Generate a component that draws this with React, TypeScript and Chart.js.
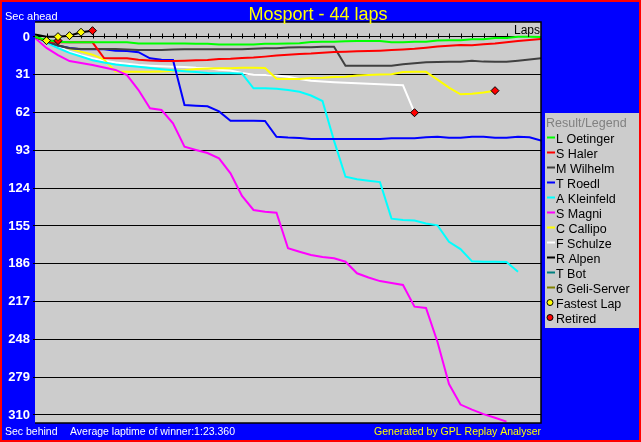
import React, { useEffect, useRef } from "react";
import { Chart, registerables } from "chart.js";

Chart.register(...registerables);

// ---------- data (seconds behind an even-pace winner, per lap 0..n) ----------
const DRIVERS = [
  "L Oetinger",
  "S Haler",
  "M Wilhelm",
  "T Roedl",
  "A Kleinfeld",
  "S Magni",
  "C Callipo",
  "F Schulze",
  "R Alpen",
  "T Bot",
  "6 Geli-Server",
];
const DRIVER_COLORS = [
  "#00ff00",
  "#ff0000",
  "#404040",
  "#0000ff",
  "#00ffff",
  "#ff00ff",
  "#ffff00",
  "#ffffff",
  "#000000",
  "#008080",
  "#808000",
];

const oetinger = [
  0, 2.5, 4, 4.3, 4.3, 4.3, 4.3, 4.3, 4.4, 5.3, 5.4, 5.4, 5.4, 5.4, 5.5, 5.6, 6.1, 6.1, 6.1, 6.1, 5.6, 5.5,
  5.4, 5.2, 4.2, 3.9, 3.9, 3.5, 3.3, 3.3, 3.3, 4.4, 4.4, 3.9, 3.8, 2.8, 2.7, 2.6, 1.9, 1.9, 0.8, 0.8, -0.2,
  -0.2, 0,
];
const haler = [
  0, 3.5, 4.3, 4.3, 4.3, 4.4, 17.3, 17.4, 17.5, 18.6, 19.3, 19.6, 19.6, 19.4, 19.0, 18.8, 18.1, 17.9, 17.3,
  16.9, 16.1, 15.2, 14.5, 14.0, 13.6, 12.9, 12.3, 12.0, 11.7, 11.5, 11.2, 10.7, 10.2, 9.7, 8.8, 7.8, 7.2, 6.5,
  6.8, 5.9, 5.4, 4.3, 3.3, 2.5, 1.6,
];
const wilhelm = [
  0, 3.5, 7, 9.3, 9.8, 9.8, 9.8, 9.8, 10.2, 10.7, 10.7, 10.6, 10.3, 10.1, 10.1, 10.1, 10.1, 10.1, 10.1, 9.6,
  9.3, 9.3, 8.6, 8.4, 8.4, 8.0, 8.0, 23.5, 23.5, 23.5, 23.5, 23.5, 22.4, 21.6, 20.8, 20.6, 20.3, 20.3, 19.5,
  20.2, 20.3, 20.3, 19.5, 18.5, 17.5,
];
const roedl = [
  0, 3.5, 7, 9, 10.1, 10.1, 10.1, 11.3, 11.5, 12.5, 17.5, 18.6, 18.9, 55.8, 56.4, 56.8, 61, 68.7, 68.7, 68.7,
  68.9, 81.8, 82.5, 82.8, 83.7, 83.7, 83.7, 83.7, 83.7, 83.7, 83.7, 83.1, 83.1, 83.1, 82.3, 81.8, 82.6, 82.6,
  81.8, 81.8, 82.6, 82.6, 81.8, 82.2, 85,
];
const kleinfeld = [
  0, 4.5, 9, 13, 16, 19, 21, 22.5, 23.5, 24.5, 25.5, 26.5, 27.3, 28, 28.8, 29.5, 29.8, 29.8, 30, 42.1, 42.1,
  42.5, 43.5, 44.9, 48, 52.5, 85, 114.6, 116.7, 117.9, 119, 149, 150.1, 150.5, 153, 154.5, 168, 174, 184,
  184.3, 184.3, 184.5, 192.5,
];
const magni = [
  0.8, 9, 14.8, 19.7, 21.3, 23, 25, 27, 31.2, 43.5, 58.5, 59.9, 70.8, 90, 92.7, 95.2, 99.5, 111.8, 130.4,
  141.9, 143.3, 144.1, 173.3, 176.1, 178.8, 180.5, 181.5, 184.3, 193.8, 197.3, 200.2, 201.8, 203.4, 221.2,
  222.3, 250.2, 284.7, 301.5, 305.6, 309.3, 312.3, 315.5,
];
const callipo = [
  0, 3, 6.5, 9.5, 12, 14.5, 18.5, 28.3, 28.5, 28.5, 28.5, 28.4, 27.6, 27.2, 26.3, 25.8, 25.7, 25.6, 25.2,
  25.2, 25.5, 34.2, 34.5, 34.5, 33.6, 33.4, 32.8, 32.6, 31.6, 31.2, 30.8, 30.5, 28.8, 28.5, 28.6, 34.9, 41.5,
  47, 46.5, 45.5, 44,
];
const schulze = [
  0, 4, 8, 12, 15, 17.5, 19.5, 21, 22, 23, 23.6, 24, 24.4, 24.6, 25.2, 25.4, 26.8, 27.5, 29.6, 31, 31.2, 31.6,
  32.6, 34.5, 35.8, 36.6, 37.2, 37.6, 38, 38.4, 38.8, 39.2, 39.6, 62.1,
];
const alpen = [-2, -0.2, -0.3, -1.1, -3.9, -5.2];
const bot = [0, 3, 3];
const geliServer: number[] = [];

const SERIES = [oetinger, haler, wilhelm, roedl, kleinfeld, magni, callipo, schulze, alpen, bot, geliServer];

const FASTEST_LAPS = [
  { driver: "T Bot", lap: 1 },
  { driver: "R Alpen", lap: 2 },
  { driver: "R Alpen", lap: 3 },
  { driver: "R Alpen", lap: 4 },
];
const RETIRED = [
  { driver: "T Bot", lap: 2 },
  { driver: "R Alpen", lap: 5 },
  { driver: "F Schulze", lap: 33 },
  { driver: "C Callipo", lap: 40 },
];

const Y_TICKS = [0, 31, 62, 93, 124, 155, 186, 217, 248, 279, 310];
const Y_MIN = -12.3;
const Y_MAX = 316.6;
const TOTAL_LAPS = 44;
const TICKED_LAPS = [1, 2, 3, 4, 5, 6, 7, 8, 9, 10, 11, 12, 13, 14, 15, 16, 17, 18, 19, 20, 21, 22, 23, 24, 25, 26, 27, 28, 29, 30, 31, 32, 33, 34, 35, 36, 37, 38, 39, 40, 41];

const TITLE = "Mosport - 44 laps";
const AVG_LAP = "Average laptime of winner:1:23.360";

const FONT = '"Liberation Sans", Arial, sans-serif';

function markerPoints(list: { driver: string; lap: number }[]) {
  return list.map((m) => {
    const s = SERIES[DRIVERS.indexOf(m.driver)];
    return { x: m.lap, y: s[m.lap] };
  });
}

const framePlugin = {
  id: "gplFrame",
  beforeDraw(chart: any) {
    const { ctx, width, height, chartArea: a } = chart;
    ctx.save();
    ctx.fillStyle = "#0000ff";
    ctx.fillRect(0, 0, width, height);
    ctx.strokeStyle = "#ff0000";
    ctx.lineWidth = 2;
    ctx.strokeRect(1, 1, width - 2, height - 2);
    ctx.fillStyle = "#cccccc";
    ctx.fillRect(a.left, a.top, a.right - a.left, a.bottom - a.top);
    ctx.restore();
  },
  beforeDatasetsDraw(chart: any) {
    const { ctx } = chart;
    const xs = chart.scales.x;
    const ys = chart.scales.y;
    const y0 = Math.round(ys.getPixelForValue(0)) + 0.5;
    ctx.save();
    ctx.strokeStyle = "#000";
    ctx.lineWidth = 1;
    ctx.beginPath();
    TICKED_LAPS.forEach((lap) => {
      const x = Math.round(xs.getPixelForValue(lap)) + 0.5;
      ctx.moveTo(x, y0 - 4);
      ctx.lineTo(x, y0 + 1);
    });
    ctx.stroke();
    ctx.restore();
  },
  afterDraw(chart: any) {
    const { ctx, width, chartArea: a } = chart;
    ctx.save();
    // plot frame
    ctx.strokeStyle = "#000";
    ctx.lineWidth = 1.5;
    ctx.beginPath();
    ctx.moveTo(a.left, a.top);
    ctx.lineTo(a.right, a.top);
    ctx.lineTo(a.right, a.bottom);
    ctx.lineTo(a.left, a.bottom);
    ctx.stroke();

    // texts
    ctx.textBaseline = "alphabetic";
    ctx.fillStyle = "#ffff00";
    ctx.font = `18px ${FONT}`;
    ctx.textAlign = "center";
    ctx.fillText(TITLE, 318, 20);

    ctx.textAlign = "left";
    ctx.fillStyle = "#ffffff";
    ctx.font = `11px ${FONT}`;
    ctx.fillText("Sec ahead", 5, 20);
    ctx.font = `10.5px ${FONT}`;
    ctx.fillText("Sec behind", 5, 435);
    ctx.fillText(AVG_LAP, 70, 435);
    ctx.textAlign = "right";
    ctx.fillStyle = "#ffff00";
    ctx.fillText("Generated by GPL Replay Analyser", a.right, 435);

    ctx.fillStyle = "#000";
    ctx.font = `12px ${FONT}`;
    ctx.fillText("Laps", a.right - 1, 34);

    // legend box
    const lx = a.right + 4;
    const ly = 113;
    ctx.fillStyle = "#cccccc";
    ctx.fillRect(lx, ly, width - 2 - lx, 215);
    ctx.textAlign = "left";
    ctx.font = `12.5px ${FONT}`;
    ctx.fillStyle = "#808080";
    ctx.fillText("Result/Legend", lx + 1, ly + 14);
    const rowY = (i: number) => ly + 24.5 + i * 15;
    DRIVERS.forEach((name, i) => {
      const cy = rowY(i);
      ctx.strokeStyle = DRIVER_COLORS[i];
      ctx.lineWidth = 2;
      ctx.beginPath();
      ctx.moveTo(lx + 2, cy);
      ctx.lineTo(lx + 10, cy);
      ctx.stroke();
      ctx.fillStyle = "#000";
      ctx.fillText(name, lx + 11, cy + 5);
    });
    const markers = [
      { label: "Fastest Lap", color: "#ffff00" },
      { label: "Retired", color: "#ff0000" },
    ];
    markers.forEach((m, j) => {
      const cy = rowY(DRIVERS.length + j);
      ctx.beginPath();
      ctx.arc(lx + 5, cy, 3, 0, Math.PI * 2);
      ctx.fillStyle = m.color;
      ctx.fill();
      ctx.strokeStyle = "#000";
      ctx.lineWidth = 1;
      ctx.stroke();
      ctx.fillStyle = "#000";
      ctx.fillText(m.label, lx + 11, cy + 5);
    });
    ctx.restore();
  },
};

export default function App() {
  const ref = useRef<HTMLCanvasElement | null>(null);

  useEffect(() => {
    document.body.style.margin = "0";
    const canvas = ref.current;
    if (!canvas) return;

    const lineSets = DRIVERS.map((name, i) => ({
      label: name,
      data: SERIES[i].map((v, lap) => ({ x: lap, y: v })),
      borderColor: DRIVER_COLORS[i],
      backgroundColor: DRIVER_COLORS[i],
      borderWidth: 2,
      pointRadius: 0,
      tension: 0,
      fill: false,
      order: i === 0 ? 0 : 1,
    }));

    const markerSet = (label: string, color: string, pts: { x: number; y: number }[]) => ({
      label,
      data: pts,
      showLine: false,
      pointStyle: "rectRot",
      pointRadius: 4,
      pointBackgroundColor: color,
      pointBorderColor: "#000",
      pointBorderWidth: 1,
      borderColor: "#000",
      backgroundColor: color,
      order: -1,
    });

    const chart = new Chart(canvas, {
      type: "line",
      data: {
        datasets: [
          ...lineSets,
          markerSet("Fastest Lap", "#ffff00", markerPoints(FASTEST_LAPS)),
          markerSet("Retired", "#ff0000", markerPoints(RETIRED)),
        ] as any,
      },
      options: {
        animation: false,
        responsive: false,
        devicePixelRatio: 1,
        layout: { padding: { left: 0, top: 22, right: 100, bottom: 19 } },
        plugins: {
          legend: { display: false },
          tooltip: { enabled: false },
          title: { display: false },
        },
        scales: {
          x: { type: "linear", min: 0, max: TOTAL_LAPS, display: false },
          y: {
            type: "linear",
            reverse: true,
            min: Y_MIN,
            max: Y_MAX,
            afterBuildTicks: (s: any) => {
              s.ticks = Y_TICKS.map((v) => ({ value: v }));
            },
            afterFit: (s: any) => {
              s.width = 35;
            },
            border: { display: false },
            grid: { color: "#000", lineWidth: 1, drawTicks: true, tickLength: 2, tickColor: "#000" },
            ticks: {
              color: "#ffffff",
              padding: 3,
              autoSkip: false,
              font: { family: FONT, size: 13, weight: "bold" },
            },
          },
        },
      } as any,
      plugins: [framePlugin],
    });
    return () => chart.destroy();
  }, []);

  return <canvas ref={ref} width={641} height={442} style={{ display: "block" }} />;
}
